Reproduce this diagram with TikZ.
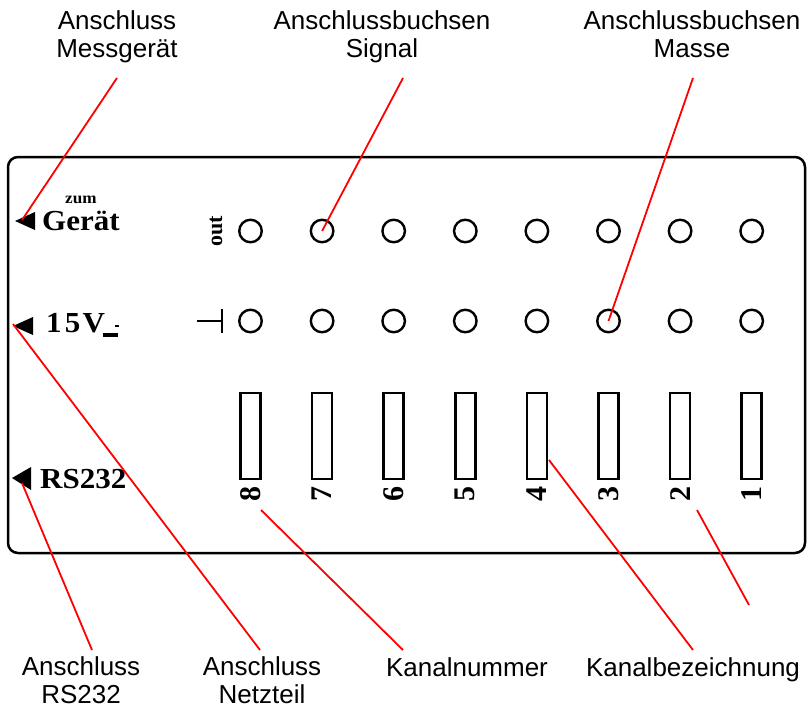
\documentclass[tikz,border=0pt]{standalone}
\usepackage{fontspec}
\setmainfont{Liberation Serif}
\setsansfont{Liberation Sans}
\begin{document}
\begin{tikzpicture}[x=1pt,y=-1pt,
  callout/.style={font=\sffamily\fontsize{26}{28.5}\selectfont, align=center, inner sep=0},
  leader/.style={red, line width=1.8pt},
  jack/.style={circle, draw, line width=2.4pt, minimum size=22.5pt, inner sep=0},
  slot/.style={draw, line width=2.6pt, minimum width=20pt, minimum height=86pt, inner sep=0},
  panel/.style={font=\bfseries\fontsize{29}{30}\selectfont, xscale=1.07, inner sep=0, anchor=base west},
  chnum/.style={font=\bfseries\fontsize{30}{30}\selectfont, rotate=90, inner sep=0},
  pointer/.style={fill=black}
]
\useasboundingbox (0,0) rectangle (810,709);

% front panel outline
\draw[line width=2.5pt, rounded corners=10pt] (8,157) rectangle (805,553);

% jacks, channel windows and channel numbers
\foreach \i in {0,...,7} {
  \pgfmathsetmacro\cx{250.5+71.6*\i}
  \pgfmathtruncatemacro\ch{8-\i}
  \node[jack]  (sig\ch)  at (\cx,231) {};
  \node[jack]  (gnd\ch)  at (\cx,321) {};
  \node[slot]  (slot\ch) at (\cx,436) {};
  \node[chnum] (num\ch)  at (\cx,494) {\ch};
}

% row markers
\node[font=\bfseries\fontsize{22}{22}\selectfont, rotate=90, inner sep=0] (outlbl) at (216,231) {out};
\coordinate (gndA) at (197,321);
\coordinate (gndB) at (222,321);
\draw[line width=1.4pt] (gndA) -- (gndB);
\draw[line width=1.4pt] (222,309) -- (222,333);

% connector labels on the panel
\fill[pointer] (15,221) -- (35,212) -- (35,230) -- cycle;
\node[font=\bfseries\fontsize{16}{16}\selectfont, xscale=1.07, inner sep=0, anchor=base west] (zum) at (65,203) {zum};
\node[panel] (geraet) at (42,230) {Gerät};

\fill[pointer] (13,326) -- (33,317) -- (33,335) -- cycle;
\node[panel] (volt) at (46,332) {1\kern3pt5\kern2ptV};
\fill (103,333) rectangle (118,337);
\draw[line width=1.2pt] (115,326) -- (119,326);

\fill[pointer] (12,478) -- (31,467) -- (31,490) -- cycle;
\node[panel] (rs) at (40,488) {RS232};

% callout texts
\node[callout, anchor=north] (lMess)   at (117,10)  {Anschluss\\Messgerät};
\node[callout, anchor=north] (lSignal) at (382,10)  {Anschlussbuchsen\\Signal};
\node[callout, anchor=north] (lMasse)  at (692,10)  {Anschlussbuchsen\\Masse};
\node[callout, anchor=north] (lRS)     at (81,656)  {Anschluss\\RS232};
\node[callout, anchor=north] (lNetz)   at (262,656) {Anschluss\\Netzteil};
\node[callout, anchor=base]  (lNum)    at (467,676) {Kanalnummer};
\node[callout, anchor=base]  (lBez)    at (693,676) {Kanalbezeichnung};

% leader end points
\coordinate (pMess)   at (117,78);
\coordinate (pSignal) at (403,78);
\coordinate (pMasse)  at (693,78);
\coordinate (pRS)     at (92,650);
\coordinate (pNetz)   at (260,650);
\coordinate (pNum)    at (403,650);
\coordinate (pBez)    at (693,650);
\coordinate (tGeraet) at (22,220);
\coordinate (tVolt)   at (13,324);
\coordinate (tRS)     at (22,483);
\coordinate (tNum)    at (261,510);
\coordinate (tBez)    at (549,460);
\coordinate (tTwo)    at (697,510);
\coordinate (eTwo)    at (749,605);

% red leaders
\draw[leader] (pMess)   -- (tGeraet);
\draw[leader] (pSignal) -- (sig7.center);
\draw[leader] (pMasse)  -- (gnd3.center);
\draw[leader] (pRS)     -- (tRS);
\draw[leader] (pNetz)   -- (tVolt);
\draw[leader] (pNum)    -- (tNum);
\draw[leader] (pBez)    -- (tBez);
\draw[leader] (tTwo)    -- (eTwo);
\end{tikzpicture}
\end{document}
